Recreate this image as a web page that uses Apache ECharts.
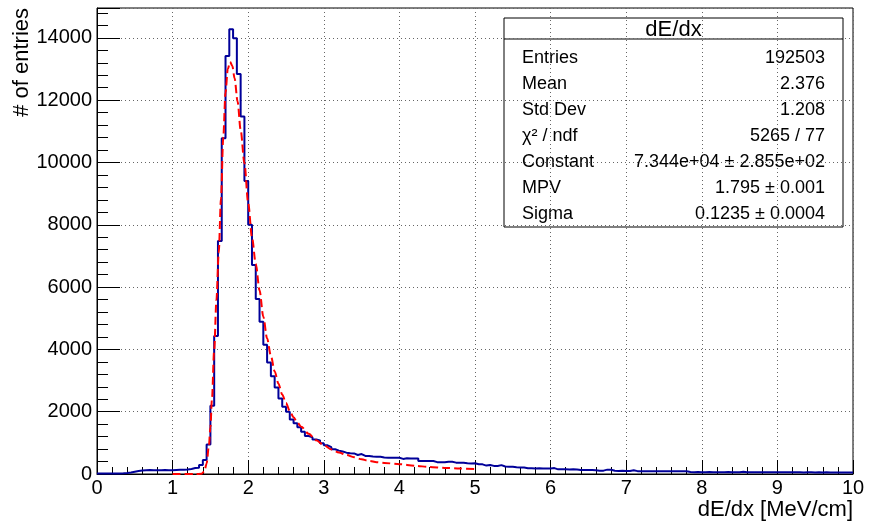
<!DOCTYPE html>
<html><head><meta charset="utf-8">
<script src="https://cdn.jsdelivr.net/npm/echarts@6/dist/echarts.min.js"></script>
<style>html,body{margin:0;padding:0;background:#fff}#c{width:875px;height:521px}</style>
</head><body><div id="c"></div>
<script>
// ---- data ----
const binLow = 0;
const binWidth = 0.05;
const counts = [
  15,15,15,15,15,20,25,35,50,75,95,110,120,125,122,118,122,125,120,124,
  130,135,138,145,160,190,200,285,450,950,2195,4430,7480,10780,13420,14280,13990,12845,11475,9410,
  8000,6710,5620,4890,4150,3580,3140,2780,2420,2160,2000,1750,1630,1500,1360,1220,1180,1110,1080,985,
  920,860,795,750,720,685,665,660,610,640,580,575,560,555,555,530,525,525,520,520,
  485,505,500,500,495,420,420,415,415,380,375,375,395,390,365,360,362,345,340,345,
  312,310,270,290,260,255,285,240,235,230,215,212,210,185,183,180,182,178,180,178,
  190,150,152,150,148,150,145,128,125,130,125,120,105,108,140,138,105,100,102,98,
  95,120,92,90,92,88,90,92,88,90,86,88,90,88,88,86,62,60,62,60,
  60,62,58,60,58,60,62,58,56,60,72,58,56,58,60,57,55,58,56,55,
  55,56,54,55,53,55,52,54,53,52,54,51,53,52,50,52,51,50,52,50
];
const fitX = [1.00,1.30,1.38,1.42,1.45,1.48,1.50,1.52,1.55,1.58,1.61,1.64,1.67,1.70,1.73,1.76,1.79,1.82,1.86,1.90,1.95,2.00,2.05,2.10,2.15,2.20,2.25,2.30,2.35,2.40,2.45,2.50,2.55,2.60,2.65,2.70,2.80,2.90,3.00,3.10,3.20,3.30,3.40,3.50,3.60,3.70,3.80,4.00,4.20,4.40,4.60,4.80,5.00];
const fitY = [0,0,5,80,340,900,1500,2380,3980,5590,7100,8850,10800,12250,13000,13230,13100,12700,11950,11050,9980,8700,7600,6750,5900,5050,4350,3800,3300,2900,2550,2280,2020,1820,1650,1520,1290,1080,930,790,690,610,540,470,420,380,355,315,265,225,195,175,158];
const xTitle = 'dE/dx [MeV/cm]';
const yTitle = '# of entries';
const statsTitle = 'dE/dx';
const statsNames = ['Entries','Mean','Std Dev','χ² / ndf','Constant','MPV','Sigma'];
const statsValues = ['192503','2.376','1.208','5265 / 77','7.344e+04 ± 2.855e+02','1.795 ± 0.001','0.1235 ± 0.0004'];

// ---- build ----
const FONT = 'Liberation Sans, Arial, Helvetica, sans-serif';
const histData = counts.map((v, i) => [binLow + i * binWidth, v]);
histData.push([binLow + counts.length * binWidth, counts[counts.length - 1]]);
const fitData = fitX.map((x, i) => [x, fitY[i]]);

const statsChildren = [
  {type:'rect', shape:{x:0,y:0,width:339,height:209}, style:{fill:'#fff', stroke:'#000', lineWidth:1}},
  {type:'line', shape:{x1:0,y1:21,x2:339,y2:21}, style:{stroke:'#000', lineWidth:1}},
  {type:'text', x:169.5, y:11.5, style:{text:statsTitle, align:'center', verticalAlign:'middle', font:'22px ' + FONT, fill:'#000'}}
];
statsNames.forEach((n, k) => {
  const yy = 40.5 + 26 * k;
  statsChildren.push({type:'text', x:18, y:yy, style:{text:n, align:'left', verticalAlign:'middle', font:'18px ' + FONT, fill:'#000'}});
  statsChildren.push({type:'text', x:321, y:yy, style:{text:statsValues[k], align:'right', verticalAlign:'middle', font:'18px ' + FONT, fill:'#000'}});
});

const chart = echarts.init(document.getElementById('c'), null, {renderer:'canvas'});
const gridLine = {show:true, lineStyle:{color:'#666', width:1, type:[1,3]}};
chart.setOption({
  animation:false,
  backgroundColor:'#fff',
  grid:{left:97, top:8, width:756, height:466, show:true, borderColor:'#000', borderWidth:1, backgroundColor:'#fff'},
  xAxis:{
    type:'value', min:0, max:10, interval:1,
    axisLine:{show:true, onZero:false, lineStyle:{color:'#000', width:1}},
    axisTick:{show:true, inside:true, length:14, lineStyle:{color:'#000'}},
    minorTick:{show:true, splitNumber:5, length:7, lineStyle:{color:'#000'}},
    splitLine:gridLine,
    axisLabel:{color:'#000', fontSize:20, fontFamily:FONT, margin:4}
  },
  yAxis:{
    type:'value', min:0, max:14960, interval:2000,
    axisLine:{show:true, onZero:false, lineStyle:{color:'#000', width:1}},
    axisTick:{show:true, inside:true, length:23, lineStyle:{color:'#000'}},
    minorTick:{show:true, splitNumber:5, length:11, lineStyle:{color:'#000'}},
    splitLine:gridLine,
    axisLabel:{color:'#000', fontSize:20, fontFamily:FONT, margin:5, showMaxLabel:false,
      formatter: v => (v % 2000 === 0 ? String(v) : '')}
  },
  series:[
    {type:'line', data:histData, step:'end', symbol:'none', silent:true,
     lineStyle:{color:'#000099', width:2}, z:2},
    {type:'line', data:fitData, smooth:0.3, smoothMonotone:'x', symbol:'none', silent:true,
     lineStyle:{color:'#ff0000', width:2, type:[8,4]}, z:3}
  ],
  graphic:[
    {type:'text', x:853, y:510, style:{text:xTitle, align:'right', verticalAlign:'middle', font:'22px ' + FONT, fill:'#000'}},
    {type:'text', x:22, y:8, rotation:Math.PI/2, style:{text:yTitle, align:'right', verticalAlign:'middle', font:'22px ' + FONT, fill:'#000'}},
    {type:'group', x:504, y:18, z:10, children:statsChildren}
  ]
});
</script>
</body></html>
